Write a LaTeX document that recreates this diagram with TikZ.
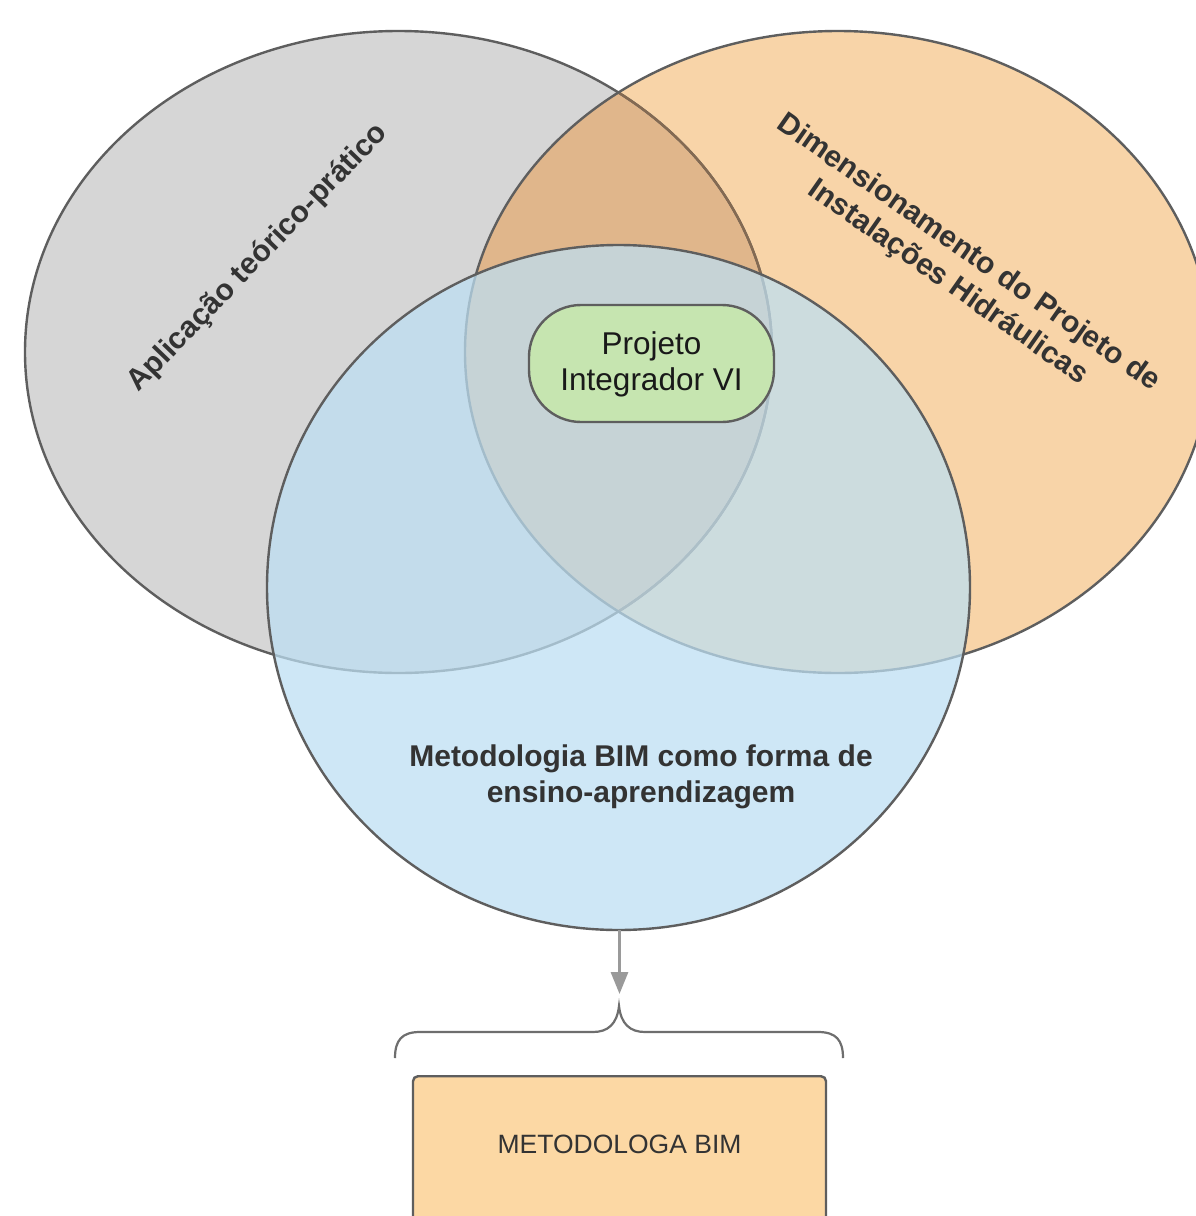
\documentclass[tikz,border=0pt]{standalone}
\usepackage{fontspec}
\setmainfont{Liberation Sans}
\usetikzlibrary{arrows.meta}
\definecolor{grayfill}{HTML}{D6D6D6}
\definecolor{orangefill}{HTML}{F8D4A8}
\definecolor{overlapfill}{HTML}{E0B68B}
\definecolor{bordercol}{HTML}{5E5E5E}
\definecolor{brownline}{HTML}{846A52}
\definecolor{bluefill}{HTML}{BDDFF3}
\definecolor{greenfill}{HTML}{C6E5B0}
\definecolor{boxfill}{HTML}{FCD8A4}
\definecolor{arrowgray}{HTML}{9A9A9A}
\definecolor{txt}{HTML}{333333}
\tikzset{
  outline/.style={draw=bordercol, line width=2.4pt},
  biglabel/.style={font=\bfseries\fontsize{30}{36}\selectfont, text=txt, align=center, inner sep=0pt},
  pillbox/.style={draw=bordercol, line width=2.4pt, fill=greenfill, rounded corners=52pt,
    minimum width=245pt, minimum height=117pt, inner sep=0pt},
  bimbox/.style={draw=bordercol, line width=2.4pt, fill=boxfill, rounded corners=5pt,
    minimum width=413pt, minimum height=160pt, inner sep=0pt},
  link/.style={draw=arrowgray, line width=3pt, -{Triangle[length=22pt,width=17pt]}},
  bracestyle/.style={draw=bordercol!90, line width=2.2pt}
}
\begin{document}
\begin{tikzpicture}[x=1pt,y=-1pt]
\useasboundingbox (0,0) rectangle (1196,1216);
\clip (0,0) rectangle (1196,1216);
\fill[white] (0,0) rectangle (1196,1216);
% gray ellipse
\path[fill=grayfill] (398.5,352) ellipse [x radius=373.5pt, y radius=321pt];
% orange ellipse
\path[fill=orangefill] (838,352) ellipse [x radius=373pt, y radius=321pt];
% overlap
\begin{scope}
  \clip (398.5,352) ellipse [x radius=373.5pt, y radius=321pt];
  \path[fill=overlapfill] (838,352) ellipse [x radius=373pt, y radius=321pt];
\end{scope}
% borders
\draw[outline] (398.5,352) ellipse [x radius=373.5pt, y radius=321pt];
\begin{scope}
  \clip (838,352) ellipse [x radius=373pt, y radius=321pt];
  \draw[draw=brownline, line width=2.4pt] (398.5,352) ellipse [x radius=373.5pt, y radius=321pt];
\end{scope}
\draw[outline] (838,352) ellipse [x radius=373pt, y radius=321pt];
% blue circle
\path[fill=bluefill, fill opacity=0.73] (618.5,587.5) ellipse [x radius=351.5pt, y radius=342.5pt];
\draw[outline] (618.5,587.5) ellipse [x radius=351.5pt, y radius=342.5pt];
% labels
\node[biglabel, rotate=46] (lapp) at (258,258) {Aplicação teórico-prático};
\node[biglabel, rotate=-35] (ldim) at (958,268) {Dimensionamento do Projeto de\\Instalações Hidráulicas};
\node[biglabel] (lbim) at (641,777) {Metodologia BIM como forma de\\ensino-aprendizagem};
% green pill
\node[pillbox] (proj) at (651.5,363.5) {};
\node[font=\fontsize{31.5}{36}\selectfont, text=black!90, align=center, inner sep=0pt] (projt) at (651.5,364) {Projeto\\Integrador VI};
% arrow
\coordinate (bbot) at (619.5,930);
\coordinate (atip) at (619.5,994);
\draw[link] (bbot) -- (atip);
% brace
\coordinate (bl) at (395,1058);
\coordinate (br) at (843,1058);
\coordinate (bt) at (619,1006);
\draw[bracestyle] (bl) .. controls (395,1040) and (402,1032) .. (420,1032)
  -- (593,1032) .. controls (608,1032) and (617,1024) .. (bt)
  .. controls (621,1024) and (630,1032) .. (645,1032)
  -- (818,1032) .. controls (836,1032) and (843,1040) .. (br);
% bottom box
\node[bimbox, anchor=north] (mbox) at (619.5,1075) {};
\node[font=\fontsize{26.5}{32}\selectfont, text=txt, inner sep=0pt] (mtext) at (619.5,1144) {METODOLOGA BIM};
\end{tikzpicture}
\end{document}
